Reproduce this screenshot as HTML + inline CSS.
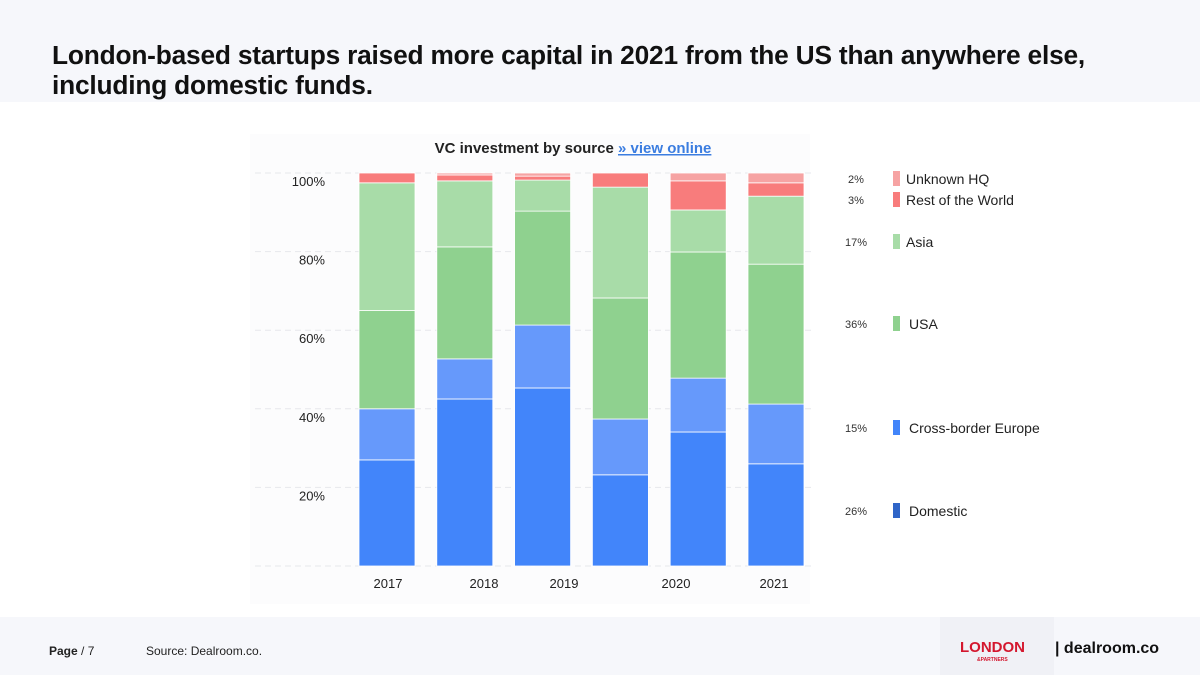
<!DOCTYPE html>
<html><head><meta charset="utf-8"><style>
body{margin:0;width:1200px;height:675px;background:#fff;font-family:"Liberation Sans",sans-serif;position:relative;overflow:hidden}
.hdr{position:absolute;left:0;top:0;width:1200px;height:102px;background:#f6f7fb}
.hdr h1{position:absolute;left:52px;top:40px;margin:0;font-size:26.3px;line-height:30px;font-weight:bold;color:#111;letter-spacing:-0.2px;white-space:nowrap}
.ftr{position:absolute;left:0;top:617px;width:1200px;height:58px;background:#f6f7fb;font-size:12px;color:#222}
</style></head><body>
<div class="hdr"><h1>London-based startups raised more capital in 2021 from the US than anywhere else,<br>including domestic funds.</h1></div>
<svg id="chart" width="1200" height="675" style="position:absolute;left:0;top:0">
<g id="grid"></g><g id="bars"></g><g id="axis"></g><g id="legend"></g>
<text x="573" y="153" text-anchor="middle" font-size="15" font-weight="bold" fill="#222">VC investment by source <tspan fill="#3b7de0" text-decoration="underline">» view online</tspan></text>
</svg>
<div class="ftr">
<span style="position:absolute;left:49px;top:27px"><b>Page</b> / 7</span>
<span style="position:absolute;left:146px;top:27px">Source: Dealroom.co.</span>
<div style="position:absolute;left:940px;top:0;width:114px;height:58px;background:#f0f1f6">
<div style="position:absolute;left:20px;top:22px;color:#d4172e;font-weight:bold;font-size:15px">LONDON</div>
<div style="position:absolute;left:37px;top:40px;color:#d4172e;font-size:5px;font-weight:bold">&amp;PARTNERS</div></div>
<span style="position:absolute;left:1055px;top:23px;font-size:16px;font-weight:bold;color:#111">| dealroom.co</span>
</div>
<script>
const years=["2017","2018","2019","2019b","2020","2021"];
const labelYears=["2017","2018","2019","2020","2021"];
const series=["Domestic","Cross-border Europe","USA","Asia","Rest of the World","Unknown HQ"];
const domestic=[27,42.5,45.3,23.2,34.1,26];
const crossBorder=[13,10.2,16,14.2,13.7,15.2];
const usa=[25,28.5,29,30.8,32.1,35.6];
const asia=[32.5,16.8,7.9,28.2,10.7,17.3];
const restWorld=[2.5,1.5,1,3.6,7.4,3.4];
const unknownHq=[0,0.5,0.8,0,2,2.5];
const legendPct=["26%","15%","36%","17%","3%","2%"];
const yTicks=[20,40,60,80,100];
const colors=["#4285fa","#6699fb","#8fd18f","#a8dca8","#f87c7c","#f6a3a3"];
const legendColors=["#2f65c8","#4285fa","#8fd18f","#a8dca8","#f87c7c","#f6a3a3"];
const NS="http://www.w3.org/2000/svg";
const y0=566,y100=173;
function y(v){return y0-(y0-y100)*v/100;}
function x(i){return 359+i*77.8;}
const bw=56;
function mk(tag,attrs,parent){const e=document.createElementNS(NS,tag);for(const k in attrs)e.setAttribute(k,attrs[k]);document.getElementById(parent).appendChild(e);return e;}
mk("rect",{x:250,y:134,width:560,height:470,fill:"#fcfcfd"},"grid");
yTicks.concat([0]).forEach(t=>{
  const l=mk("line",{x1:255,x2:815,y1:y(t),y2:y(t),stroke:"#e6e7ec","stroke-dasharray":"6 4"},"grid");
  
  
});
yTicks.forEach(t=>{
  const tx=mk("text",{x:325,y:y(t)+13,"text-anchor":"end","font-size":13,fill:"#222"},"axis");
  tx.textContent=t+"%";
  
  
});
const labX=[388,484,564,676,774];
labelYears.forEach((yr,i)=>{
  const tx=mk("text",{x:labX[i],y:588,"text-anchor":"middle","font-size":13,fill:"#222"},"axis");
  tx.textContent=yr;
  
  
});
const data=[domestic,crossBorder,usa,asia,restWorld,unknownHq];
years.forEach((yr,i)=>{
  let cum=0;
  data.forEach((s,k)=>{
    const v=s[i];if(v<=0)return;
    const r=mk("rect",{x:x(i),y:y(cum+v),width:bw,height:y(cum)-y(cum+v),fill:colors[k],stroke:"#fff","stroke-width":0.8},"bars");
    
    
    cum+=v;
  });
});
const legY=[511,428,324,242,200,179];
series.forEach((s,k)=>{
  const p=mk("text",{x:856,y:legY[k]+4,"text-anchor":"middle","font-size":11,fill:"#333"},"legend");
  p.textContent=legendPct[k];
  
  
  const r=mk("rect",{x:893,y:legY[k]-8,width:7,height:15,fill:legendColors[k]},"legend");
  
  
  const t=mk("text",{x:(k>=3?906:909),y:legY[k]+5,"font-size":14,fill:"#222"},"legend");
  t.textContent=s;
  
  
});
</script>
</body></html>
